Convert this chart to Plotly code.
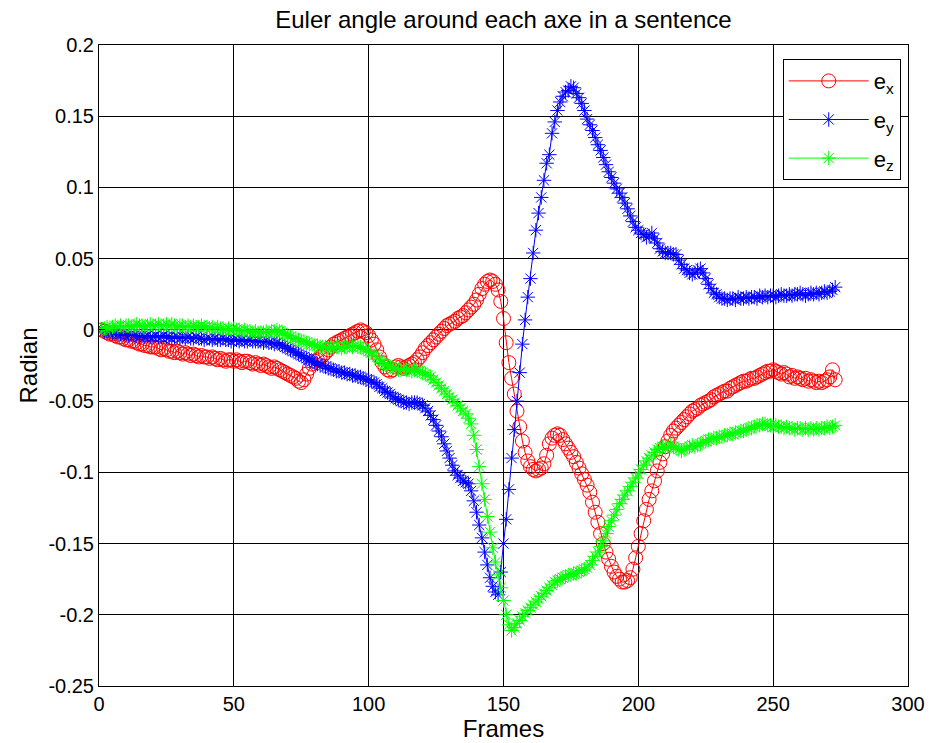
import plotly.graph_objects as go

frames = list(range(1, 274))

e_x = [
    0.000, -0.001, -0.002, -0.003, -0.003, -0.004, -0.005, -0.005, -0.006, -0.007,
    -0.007, -0.008, -0.008, -0.009, -0.010, -0.010, -0.011, -0.011, -0.012, -0.012,
    -0.012, -0.013, -0.014, -0.013, -0.014, -0.015, -0.015, -0.016, -0.015, -0.016,
    -0.017, -0.016, -0.017, -0.018, -0.017, -0.018, -0.019, -0.018, -0.019, -0.019,
    -0.020, -0.019, -0.020, -0.021, -0.020, -0.021, -0.022, -0.021, -0.021, -0.022,
    -0.021, -0.022, -0.023, -0.022, -0.022, -0.023, -0.024, -0.023, -0.024, -0.025,
    -0.024, -0.025, -0.026, -0.027, -0.026, -0.027, -0.028, -0.029, -0.030, -0.031,
    -0.032, -0.033, -0.034, -0.036, -0.037, -0.035, -0.031, -0.027, -0.024, -0.022,
    -0.021, -0.019, -0.018, -0.016, -0.014, -0.012, -0.010, -0.009, -0.008, -0.007,
    -0.006, -0.005, -0.004, -0.003, -0.002, -0.001, 0.000, -0.001, -0.002, -0.004,
    -0.007, -0.010, -0.014, -0.019, -0.023, -0.026, -0.028, -0.029, -0.028, -0.026,
    -0.025, -0.026, -0.027, -0.026, -0.025, -0.024, -0.023, -0.021, -0.019, -0.016,
    -0.013, -0.011, -0.009, -0.007, -0.005, -0.003, -0.001, 0.001, 0.003, 0.004,
    0.005, 0.006, 0.008, 0.009, 0.010, 0.012, 0.014, 0.016, 0.018, 0.021,
    0.025, 0.029, 0.032, 0.034, 0.035, 0.034, 0.032, 0.028, 0.020, 0.008,
    -0.009, -0.023, -0.034, -0.045, -0.057, -0.068, -0.078, -0.086, -0.092, -0.096,
    -0.098, -0.099, -0.098, -0.097, -0.094, -0.088, -0.080, -0.076, -0.074, -0.073,
    -0.074, -0.077, -0.080, -0.083, -0.086, -0.089, -0.093, -0.097, -0.101, -0.105,
    -0.109, -0.114, -0.121, -0.128, -0.135, -0.143, -0.150, -0.156, -0.161, -0.166,
    -0.170, -0.173, -0.175, -0.177, -0.177, -0.176, -0.174, -0.168, -0.160, -0.152,
    -0.143, -0.134, -0.126, -0.119, -0.113, -0.106, -0.099, -0.093, -0.087, -0.082,
    -0.078, -0.074, -0.071, -0.069, -0.067, -0.065, -0.063, -0.061, -0.059, -0.057,
    -0.056, -0.055, -0.053, -0.052, -0.051, -0.050, -0.049, -0.047, -0.046, -0.045,
    -0.044, -0.043, -0.043, -0.041, -0.040, -0.039, -0.038, -0.037, -0.036, -0.036,
    -0.035, -0.034, -0.034, -0.033, -0.032, -0.031, -0.030, -0.029, -0.029, -0.028,
    -0.029, -0.030, -0.031, -0.030, -0.031, -0.033, -0.032, -0.034, -0.033, -0.034,
    -0.035, -0.034, -0.036, -0.035, -0.036, -0.037, -0.036, -0.037, -0.036, -0.035,
    -0.033, -0.028, -0.035,
]

e_y = [
    0.000, -0.001, -0.001, -0.002, -0.002, -0.002, -0.003, -0.003, -0.003, -0.004,
    -0.004, -0.003, -0.004, -0.004, -0.005, -0.004, -0.005, -0.004, -0.005, -0.005,
    -0.004, -0.005, -0.005, -0.004, -0.005, -0.005, -0.006, -0.005, -0.005, -0.006,
    -0.005, -0.006, -0.005, -0.006, -0.006, -0.005, -0.006, -0.006, -0.007, -0.006,
    -0.006, -0.007, -0.006, -0.007, -0.007, -0.006, -0.007, -0.007, -0.008, -0.007,
    -0.007, -0.008, -0.007, -0.008, -0.008, -0.007, -0.008, -0.008, -0.008, -0.008,
    -0.009, -0.008, -0.009, -0.009, -0.010, -0.009, -0.010, -0.011, -0.012, -0.013,
    -0.014, -0.015, -0.016, -0.017, -0.018, -0.019, -0.020, -0.021, -0.022, -0.023,
    -0.024, -0.025, -0.025, -0.026, -0.027, -0.027, -0.028, -0.029, -0.029, -0.030,
    -0.030, -0.031, -0.031, -0.032, -0.032, -0.033, -0.033, -0.034, -0.035, -0.035,
    -0.036, -0.037, -0.038, -0.040, -0.041, -0.043, -0.044, -0.045, -0.047, -0.048,
    -0.049, -0.050, -0.051, -0.051, -0.052, -0.051, -0.051, -0.051, -0.052, -0.053,
    -0.055, -0.057, -0.060, -0.063, -0.067, -0.071, -0.075, -0.080, -0.085, -0.090,
    -0.095, -0.099, -0.102, -0.104, -0.106, -0.107, -0.108, -0.113, -0.120, -0.128,
    -0.137, -0.146, -0.156, -0.165, -0.174, -0.180, -0.184, -0.186, -0.170, -0.150,
    -0.133, -0.112, -0.090, -0.070, -0.050, -0.030, -0.010, 0.007, 0.023, 0.036,
    0.054, 0.070, 0.082, 0.093, 0.105, 0.117, 0.123, 0.138, 0.146, 0.154,
    0.160, 0.164, 0.167, 0.168, 0.171, 0.170, 0.166, 0.163, 0.159, 0.154,
    0.148, 0.144, 0.140, 0.135, 0.130, 0.126, 0.121, 0.116, 0.111, 0.107,
    0.103, 0.099, 0.096, 0.093, 0.089, 0.085, 0.080, 0.076, 0.072, 0.070,
    0.068, 0.067, 0.065, 0.066, 0.068, 0.064, 0.061, 0.057, 0.055, 0.054,
    0.054, 0.054, 0.053, 0.053, 0.049, 0.046, 0.043, 0.042, 0.040, 0.039,
    0.040, 0.042, 0.043, 0.040, 0.036, 0.032, 0.029, 0.026, 0.025, 0.023,
    0.022, 0.022, 0.021, 0.022, 0.022, 0.021, 0.023, 0.022, 0.022, 0.023,
    0.022, 0.023, 0.023, 0.022, 0.024, 0.023, 0.024, 0.023, 0.024, 0.024,
    0.023, 0.024, 0.025, 0.024, 0.024, 0.025, 0.024, 0.025, 0.025, 0.026,
    0.025, 0.024, 0.025, 0.026, 0.025, 0.026, 0.025, 0.026, 0.027, 0.026,
    0.027, 0.028, 0.030,
]

e_z = [
    0.000, 0.001, 0.002, 0.001, 0.002, 0.003, 0.002, 0.003, 0.002, 0.003,
    0.003, 0.002, 0.003, 0.004, 0.003, 0.003, 0.002, 0.003, 0.004, 0.003,
    0.003, 0.004, 0.003, 0.003, 0.004, 0.003, 0.004, 0.003, 0.002, 0.003,
    0.003, 0.002, 0.003, 0.002, 0.003, 0.002, 0.002, 0.003, 0.002, 0.002,
    0.001, 0.002, 0.001, 0.002, 0.001, 0.001, 0.000, 0.001, 0.000, 0.001,
    0.000, 0.000, -0.001, 0.000, -0.001, -0.001, -0.002, -0.001, -0.002, -0.002,
    -0.002, -0.001, -0.002, -0.001, -0.001, 0.000, -0.001, -0.002, -0.003, -0.004,
    -0.005, -0.006, -0.006, -0.007, -0.008, -0.008, -0.009, -0.010, -0.010, -0.011,
    -0.011, -0.012, -0.012, -0.012, -0.013, -0.012, -0.013, -0.012, -0.012, -0.013,
    -0.012, -0.012, -0.011, -0.012, -0.011, -0.012, -0.012, -0.013, -0.014, -0.015,
    -0.016, -0.018, -0.019, -0.021, -0.023, -0.024, -0.025, -0.026, -0.027, -0.027,
    -0.028, -0.028, -0.027, -0.028, -0.028, -0.029, -0.028, -0.029, -0.029, -0.030,
    -0.031, -0.032, -0.033, -0.035, -0.037, -0.039, -0.041, -0.043, -0.045, -0.047,
    -0.049, -0.051, -0.053, -0.055, -0.057, -0.059, -0.062, -0.066, -0.074, -0.084,
    -0.096, -0.108, -0.119, -0.131, -0.142, -0.153, -0.163, -0.172, -0.181, -0.190,
    -0.200, -0.207, -0.211, -0.209, -0.206, -0.204, -0.201, -0.199, -0.197, -0.195,
    -0.193, -0.191, -0.189, -0.187, -0.185, -0.183, -0.181, -0.179, -0.177, -0.176,
    -0.175, -0.174, -0.173, -0.172, -0.172, -0.171, -0.171, -0.170, -0.169, -0.168,
    -0.167, -0.165, -0.162, -0.159, -0.156, -0.152, -0.148, -0.143, -0.138, -0.134,
    -0.130, -0.126, -0.122, -0.119, -0.116, -0.113, -0.110, -0.107, -0.104, -0.101,
    -0.098, -0.095, -0.092, -0.090, -0.088, -0.086, -0.084, -0.083, -0.082, -0.083,
    -0.082, -0.081, -0.082, -0.083, -0.084, -0.085, -0.084, -0.083, -0.082, -0.081,
    -0.082, -0.081, -0.080, -0.079, -0.078, -0.077, -0.077, -0.076, -0.076, -0.075,
    -0.075, -0.074, -0.074, -0.073, -0.073, -0.072, -0.072, -0.071, -0.071, -0.070,
    -0.069, -0.069, -0.068, -0.067, -0.067, -0.066, -0.066, -0.067, -0.067, -0.068,
    -0.067, -0.068, -0.068, -0.069, -0.068, -0.069, -0.069, -0.070, -0.069, -0.069,
    -0.070, -0.069, -0.070, -0.069, -0.070, -0.069, -0.070, -0.069, -0.069, -0.068,
    -0.069, -0.068, -0.067,
]

x_ticks = [0, 50, 100, 150, 200, 250, 300]
y_ticks = [-0.25, -0.2, -0.15, -0.1, -0.05, 0, 0.05, 0.1, 0.15, 0.2]
y_ticklabels = ["-0.25", "-0.2", "-0.15", "-0.1", "-0.05", "0", "0.05", "0.1", "0.15", "0.2"]

FONT = "Liberation Sans, Arial, sans-serif"

fig = go.Figure()
fig.add_trace(go.Scatter(
    x=frames, y=e_x, mode="lines+markers", name="e<sub>x</sub>", legendgroup="gx",
    line=dict(color="#ff0000", width=1),
    marker=dict(symbol="circle-open", size=14, color="#ff0000", line=dict(width=1, color="#ff0000")),
))
fig.add_trace(go.Scatter(
    x=frames, y=e_y, mode="lines+markers", name="e<sub>y</sub>", legendgroup="gy",
    line=dict(color="#0000ff", width=1),
    marker=dict(symbol="asterisk-open", size=12, color="#0000ff", line=dict(width=1, color="#0000ff")),
))
fig.add_trace(go.Scatter(
    x=frames, y=e_z, mode="lines+markers", name="e<sub>z</sub>", legendgroup="gz",
    line=dict(color="#00ff00", width=1),
    marker=dict(symbol="asterisk-open", size=12, color="#00ff00", line=dict(width=1, color="#00ff00")),
))

axis_common = dict(
    showgrid=True, gridcolor="#000000", gridwidth=1,
    showline=True, linecolor="#000000", linewidth=1, mirror="ticks",
    ticks="inside", ticklen=6, tickcolor="#000000",
    zeroline=False, automargin=False,
    tickfont=dict(family=FONT, size=20, color="#000000"),
)

fig.update_layout(
    width=934, height=743,
    margin=dict(l=99, r=26, t=45, b=57),
    paper_bgcolor="white", plot_bgcolor="white",
    font=dict(family=FONT, color="#000000"),
    title=dict(text="Euler angle around each axe in a sentence", x=0.539, xanchor="center",
               xref="container", yref="container", automargin=False,
               y=1 - 20 / 743, yanchor="middle", font=dict(family=FONT, size=24, color="#000000")),
    xaxis=dict(range=[0, 300], tickvals=x_ticks, ticktext=[str(v) for v in x_ticks],
               title=dict(text="Frames", font=dict(family=FONT, size=24), standoff=4),
               **axis_common),
    yaxis=dict(range=[-0.25, 0.2], tickvals=y_ticks, ticktext=y_ticklabels,
               title=dict(text="Radian", font=dict(family=FONT, size=24), standoff=4),
               **axis_common),
    legend=dict(x=0.991, y=0.978, xanchor="right", yanchor="top",
                bgcolor="white", bordercolor="#000000", borderwidth=1,
                font=dict(family=FONT, size=22, color="#000000"),
                itemwidth=80, tracegroupgap=7),
    showlegend=True,
)

fig.write_html(
    "out.html",
    config={"displayModeBar": False},
    post_script="document.body.style.margin='0';document.body.style.padding='0';",
)
